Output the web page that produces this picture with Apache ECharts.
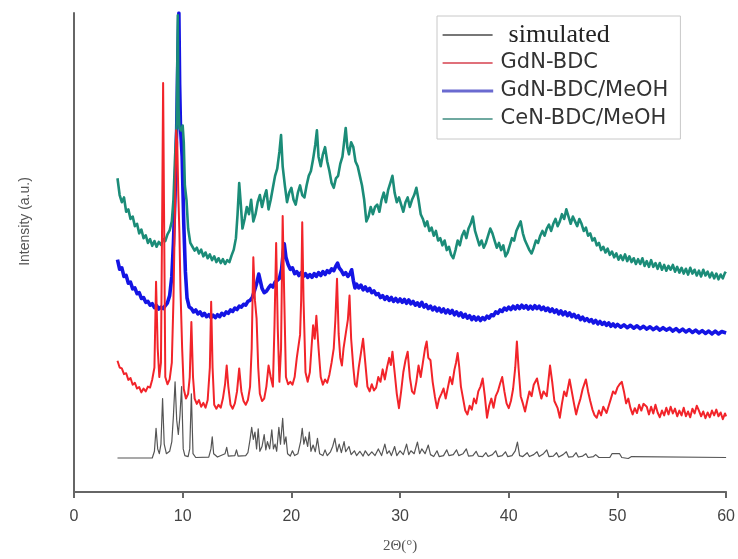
<!DOCTYPE html>
<html>
<head>
<meta charset="utf-8">
<script src="https://cdn.jsdelivr.net/npm/echarts@6/dist/echarts.min.js"></script>
<style>
  html, body { margin: 0; padding: 0; background: #fff; }
  #chart { width: 738px; height: 559px; }
</style>
</head>
<body>
<div id="chart"></div>
<script>
// Powder XRD patterns, [2θ (deg), intensity (a.u., stacked offsets)]
const seriesNames = ['simulated', 'GdN-BDC', 'GdN-BDC/MeOH', 'CeN-BDC/MeOH'];
const xTicks = [0, 10, 20, 30, 40, 50, 60];

const simulated = [
  [4.0,7.1],[7.2,7.1],[7.4,8.5],[7.55,13.3],[7.7,9],[7.85,8],[8.0,10],[8.15,19.5],[8.3,10],[8.5,8],
  [8.8,8.5],[9.0,10.5],[9.15,16],[9.3,23],[9.45,15],[9.6,12],[9.75,16],[9.9,22],[10.05,9],[10.2,7.6],
  [10.5,7.4],[10.65,9],[10.8,20.5],[10.95,8],[11.2,7.2],[12.4,7.3],[12.6,9],[12.72,11.5],[12.85,8],[13.2,7.3],
  [13.9,8],[14.05,9.3],[14.2,7.5],[14.8,7.6],[14.95,8.8],[15.1,7.5],[15.8,7.6],[16.0,8.2],[16.2,11],[16.35,13.5],
  [16.5,11],[16.65,12.5],[16.8,9],[16.95,13.2],[17.1,8.5],[17.3,9.5],[17.5,12],[17.65,8.8],[17.8,10.5],[18.0,9],
  [18.2,13],[18.35,9],[18.5,10],[18.65,8.5],[18.85,13.5],[19.0,10],[19.2,15.4],[19.35,10],[19.5,11.5],[19.65,8],
  [19.9,7.5],[20.1,8.6],[20.3,7.6],[20.6,8],[20.85,10.5],[21.0,13.3],[21.15,10],[21.3,11.5],[21.5,9.5],[21.65,12.5],
  [21.8,8.5],[22.0,9.8],[22.2,8.4],[22.4,11.2],[22.6,8],[22.9,7.6],[23.1,8.8],[23.3,7.6],[23.6,8.4],[23.8,9.5],
  [24.0,11.2],[24.2,8.4],[24.4,10],[24.6,8.2],[24.85,10.5],[25.0,8.4],[25.3,9.5],[25.5,7.8],[25.8,8.6],[26.0,7.6],
  [26.3,8.5],[26.6,7.5],[26.8,8.6],[27.1,7.6],[27.4,8.4],[27.7,7.6],[28.0,9],[28.3,7.6],[28.6,10],[28.8,8],
  [29.0,8.6],[29.2,7.6],[29.5,9.5],[29.7,7.6],[30.0,8.6],[30.3,7.8],[30.6,10],[30.8,7.8],[31.0,8.6],[31.3,8],
  [31.6,10.4],[31.8,8],[32.0,9],[32.3,8],[32.6,9.8],[32.8,7.8],[33.1,7.4],[33.4,8.6],[33.6,7.4],[34.0,7.6],
  [34.3,8.8],[34.5,7.6],[34.9,7.8],[35.2,8.8],[35.4,7.6],[35.8,8],[36.1,9],[36.3,7.5],[36.7,7.6],[37.0,8.5],
  [37.2,7.5],[37.6,7.4],[37.9,8.2],[38.1,7.4],[38.5,7.8],[38.8,8.6],[39.0,7.4],[39.4,7.6],[39.7,8.4],[39.9,7.4],
  [40.3,7.6],[40.6,8.6],[40.8,10.4],[41.0,7.6],[41.3,7.4],[41.7,8.2],[41.9,7.4],[42.3,7.8],[42.6,8.4],[42.8,7.4],
  [43.2,8],[43.5,8.8],[43.7,7.4],[44.1,7.5],[44.4,8.2],[44.6,7.3],[45.0,7.8],[45.3,8.4],[45.5,7.3],[45.9,7.4],
  [46.2,8.2],[46.4,7.3],[46.8,7.5],[47.1,8],[47.3,7.2],[47.8,7.4],[48.0,7.8],[48.3,7.2],[49.3,7.2],[49.5,8],
  [50.2,8],[50.4,7.2],[51.0,7.0],[51.3,7.4],[60.0,7.2]
];

const gdnBdc = [
  [4.0,27.4],[4.2,26],[4.4,25.8],[4.6,24.6],[4.8,24.8],[5.0,23.4],[5.2,23.8],[5.4,22.4],[5.6,22.8],[5.8,21.6],
  [6.0,21.9],[6.2,20.8],[6.4,21.6],[6.6,21],[6.8,22],[7.0,21.8],[7.2,23.5],[7.4,26],[7.55,43.9],[7.7,30],
  [7.85,24],[8.0,27],[8.12,60],[8.2,85.4],[8.28,60],[8.4,24],[8.6,22.5],[8.8,23.5],[9.0,27],[9.15,40],
  [9.3,60],[9.4,75.5],[9.5,73],[9.6,62],[9.7,54],[9.8,42],[9.95,30],[10.1,21.5],[10.3,19.5],[10.5,20.5],
  [10.65,24],[10.8,35.5],[10.95,24],[11.1,19.5],[11.3,18.4],[11.5,19.2],[11.7,17.8],[11.9,18.6],[12.1,17.6],[12.3,19.2],
  [12.5,26],[12.62,39.7],[12.75,26],[12.9,18.2],[13.1,17.4],[13.3,18.2],[13.5,17.6],[13.7,19.5],[13.9,22.5],[14.05,26.4],
  [14.2,22],[14.4,18.2],[14.6,17.4],[14.8,18.5],[15.0,21],[15.2,25.8],[15.4,21],[15.6,19],[15.8,18.2],[16.0,19.2],
  [16.2,22],[16.35,30],[16.5,49],[16.65,40],[16.8,36.2],[16.95,26],[17.1,20.5],[17.3,19],[17.5,19.5],[17.7,22],
  [17.9,26.4],[18.1,24],[18.3,22],[18.45,35],[18.6,52],[18.75,34],[18.9,23],[19.05,30],[19.2,57.6],[19.35,40],
  [19.5,24],[19.7,22.5],[19.9,23],[20.1,22.4],[20.3,24],[20.5,28],[20.8,32.8],[20.9,40],[21.0,56.3],[21.12,40],
  [21.3,25],[21.5,23],[21.7,25],[21.85,30],[22.0,34.8],[22.15,32],[22.3,36.8],[22.5,30],[22.7,24],[22.9,22.4],
  [23.1,23.5],[23.3,22.8],[23.5,24.5],[23.7,27],[23.9,30],[24.05,36],[24.2,44.5],[24.35,33],[24.5,28],[24.65,26.4],
  [24.8,30],[25.0,33],[25.2,36],[25.35,41],[25.5,32],[25.7,26],[25.85,22.5],[26.0,22],[26.2,26],[26.4,29],
  [26.6,32],[26.8,27],[27.0,22],[27.2,21],[27.4,22.5],[27.6,21.2],[27.8,21.8],[28.0,24],[28.2,23],[28.4,25.6],
  [28.6,23.5],[28.8,26],[29.0,28],[29.15,26.5],[29.3,29.3],[29.5,25],[29.7,20.5],[29.9,17.5],[30.1,21],[30.3,25],
  [30.5,27.5],[30.7,29.3],[30.9,24],[31.1,21],[31.3,20.5],[31.5,23],[31.7,26.4],[31.9,24],[32.1,27],[32.3,30],
  [32.45,31.4],[32.6,28],[32.8,27.5],[33.0,23],[33.2,20],[33.4,17.5],[33.6,19.5],[33.8,20.5],[34.0,21.6],[34.2,19.5],
  [34.4,21.8],[34.6,24],[34.8,22.5],[35.0,25.5],[35.15,27],[35.3,29],[35.45,26],[35.6,22],[35.8,19.5],[36.0,17],
  [36.2,16.2],[36.4,18],[36.6,17.2],[36.8,19.5],[37.0,18.5],[37.2,21],[37.4,22],[37.6,23.7],[37.8,20],[38.0,15.5],
  [38.2,18],[38.4,19.5],[38.6,17.6],[38.8,20],[39.0,21],[39.2,22.6],[39.4,24],[39.6,21],[39.8,18.5],[40.0,17.5],
  [40.2,19],[40.4,21.5],[40.6,26],[40.75,31.4],[40.9,26],[41.1,20],[41.3,18.5],[41.5,16.8],[41.7,19],[41.9,21],
  [42.1,20],[42.3,22.4],[42.6,23.7],[42.8,21.5],[43.0,19.5],[43.2,21],[43.5,20],[43.8,26.4],[44.0,23],[44.2,19],
  [44.5,17.5],[44.7,15.5],[44.9,18.5],[45.1,21],[45.3,20],[45.6,23.5],[45.8,21],[46.0,18.5],[46.2,16.2],[46.4,18],
  [46.6,19.5],[46.8,21.5],[47.1,23.5],[47.3,21],[47.5,19],[47.7,17.2],[47.9,16],[48.1,15.5],[48.3,17],[48.5,16],
  [48.7,17.8],[49.0,16.5],[49.2,18],[49.4,19.5],[49.6,21],[49.8,20.5],[50.0,21.8],[50.2,22.5],[50.4,23],[50.6,21],
  [50.8,18.5],[51.0,19.5],[51.2,17.5],[51.4,16.2],[51.6,17.5],[51.8,16.5],[52.0,18.2],[52.2,17],[52.4,18.4],[52.7,17.8],
  [52.9,16.2],[53.1,17.8],[53.3,16.4],[53.5,18.2],[53.7,16.6],[53.9,15.6],[54.1,17],[54.3,16],[54.5,17.6],[54.7,16.2],
  [54.9,17.8],[55.1,16.4],[55.3,17.4],[55.5,15.8],[55.7,17],[55.9,16],[56.1,17.6],[56.3,15.8],[56.5,16.8],[56.7,15.6],
  [56.9,17.4],[57.1,16.4],[57.3,18],[57.5,17],[57.7,15.8],[57.9,16.8],[58.1,15.4],[58.3,16.6],[58.5,15.6],[58.7,17],
  [58.9,16],[59.1,17.2],[59.3,15.8],[59.5,16.6],[59.7,15.2],[59.9,16.4],[60.0,15.8]
];

const gdnBdcMeOH = [
  [4.0,48.5],[4.2,46.5],[4.4,46.8],[4.6,45],[4.8,45.2],[5.0,43.6],[5.2,43.8],[5.4,42.4],[5.6,42.6],[5.8,41.4],
  [6.0,41.6],[6.2,40.4],[6.4,40.6],[6.6,39.6],[6.8,39.8],[7.0,39],[7.2,39.3],[7.4,38.5],[7.6,38.9],[7.8,38.2],
  [8.0,38.6],[8.2,38.3],[8.4,38.9],[8.6,39.5],[8.8,41],[9.0,45],[9.15,52],[9.3,62],[9.45,76],[9.55,90],
  [9.65,100],[9.72,85],[9.8,76],[9.95,70],[10.1,56],[10.25,46],[10.4,40.5],[10.6,38.6],[10.8,38.3],[11.0,37.6],
  [11.2,38],[11.4,37.2],[11.6,37.6],[11.8,36.8],[12.0,37.3],[12.2,36.6],[12.4,37],[12.6,36.4],[12.8,36.9],[13.0,36.4],
  [13.2,37],[13.4,36.6],[13.6,37.3],[13.8,36.9],[14.0,37.6],[14.2,37.3],[14.4,38],[14.6,37.7],[14.8,38.4],[15.0,38.1],
  [15.2,38.8],[15.4,38.6],[15.6,39.2],[15.8,39],[16.0,39.8],[16.2,40],[16.4,40.6],[16.6,42],[16.8,43.5],[17.0,45.5],
  [17.15,44],[17.3,42.5],[17.5,41.6],[17.7,41.9],[17.9,42.6],[18.1,43.2],[18.3,42.8],[18.5,43.8],[18.7,44.2],[18.9,44.6],
  [19.1,46.5],[19.25,50],[19.35,51.8],[19.5,49],[19.7,47.5],[19.9,46.5],[20.1,46.8],[20.3,45.6],[20.5,46],[20.7,45.2],
  [20.9,45.8],[21.1,45],[21.3,45.6],[21.5,44.8],[21.7,45.4],[21.9,44.8],[22.1,45.6],[22.3,45],[22.5,45.8],[22.7,45.2],
  [22.9,46],[23.1,45.4],[23.3,46.2],[23.5,45.8],[23.7,46.6],[23.9,46.2],[24.1,47.2],[24.25,47.8],[24.4,46.8],[24.6,46.2],
  [24.8,45.4],[25.0,45.8],[25.2,45],[25.4,45.6],[25.55,46.4],[25.7,44.2],[25.85,42.6],[26.0,43.4],[26.2,42.6],[26.4,43.2],
  [26.6,42.2],[26.8,42.8],[27.0,42],[27.2,42.5],[27.4,41.6],[27.6,42],[27.8,41.2],[28.0,41.4],[28.2,40.6],[28.4,41],
  [28.6,40.2],[28.8,40.8],[29.0,40],[29.2,40.6],[29.4,39.8],[29.6,40.4],[29.8,39.7],[30.0,40.3],[30.2,39.6],[30.4,40.2],
  [30.6,39.4],[30.8,40.1],[31.0,39.3],[31.2,39.8],[31.4,39],[31.6,39.5],[31.8,38.8],[32.0,39.6],[32.2,38.6],[32.4,39.1],
  [32.6,38.3],[32.8,38.8],[33.0,38],[33.2,38.6],[33.4,37.8],[33.6,38.4],[33.8,37.6],[34.0,38.2],[34.2,37.4],[34.4,38],
  [34.6,37.3],[34.8,37.9],[35.0,37],[35.2,37.6],[35.4,36.8],[35.6,37.4],[35.8,36.5],[36.0,37.1],[36.2,36.3],[36.4,36.8],
  [36.6,36],[36.8,36.6],[37.0,35.9],[37.2,36.5],[37.4,35.8],[37.6,36.4],[37.8,36],[38.0,36.7],[38.2,36.3],[38.4,37],
  [38.6,36.8],[38.8,37.6],[39.0,37.3],[39.2,38],[39.4,37.7],[39.6,38.4],[39.8,38],[40.0,38.6],[40.2,38.1],[40.4,38.8],
  [40.6,38.2],[40.8,38.9],[41.0,38.3],[41.2,39],[41.4,38.4],[41.6,38.9],[41.8,38.2],[42.0,38.8],[42.2,38.2],[42.4,38.9],
  [42.6,38.3],[42.8,38.8],[43.0,38.1],[43.2,38.6],[43.4,37.9],[43.6,38.4],[43.8,37.7],[44.0,38.2],[44.2,37.5],[44.4,38],
  [44.6,37.2],[44.8,37.8],[45.0,37],[45.2,37.6],[45.4,36.8],[45.6,37.4],[45.8,36.6],[46.0,37.1],[46.2,36.4],[46.4,36.8],
  [46.6,36],[46.8,36.5],[47.0,35.8],[47.2,36.2],[47.4,35.6],[47.6,36],[47.8,35.3],[48.0,35.8],[48.2,35.1],[48.4,35.6],
  [48.6,35],[48.8,35.4],[49.0,34.8],[49.2,35.3],[49.4,34.6],[49.6,35.1],[49.8,34.5],[50.0,35],[50.3,34.4],[50.6,34.9],
  [50.9,34.3],[51.2,34.8],[51.5,34.2],[51.8,34.7],[52.1,34.1],[52.4,34.6],[52.7,34],[53.0,34.5],[53.3,33.9],[53.6,34.4],
  [53.9,33.8],[54.2,34.3],[54.5,33.8],[54.8,34.2],[55.1,33.6],[55.4,34.1],[55.7,33.5],[56.0,34],[56.3,33.4],[56.6,33.9],
  [56.9,33.3],[57.2,33.8],[57.5,33.2],[57.8,33.7],[58.1,33.1],[58.4,33.6],[58.7,33],[59.0,33.6],[59.3,33],[59.6,33.5],
  [60.0,33.2]
];

const cenBdcMeOH = [
  [4.0,65.5],[4.2,62],[4.4,60.5],[4.6,61.5],[4.8,58.5],[5.0,59],[5.2,57],[5.4,57.5],[5.6,55.5],[5.8,56],
  [6.0,54],[6.2,54.8],[6.4,53],[6.6,53.6],[6.8,52],[7.0,52.8],[7.2,51.4],[7.4,52.4],[7.6,51.2],[7.8,52.2],
  [8.0,51.6],[8.2,52.8],[8.4,52.4],[8.6,53.8],[8.8,54.6],[9.0,56.5],[9.15,61],[9.3,70],[9.45,77],[9.55,99.5],
  [9.62,80],[9.7,76],[9.85,75.5],[10.0,76.5],[10.1,73],[10.2,64],[10.35,61],[10.5,55],[10.7,52],[10.9,51.2],
  [11.1,50.4],[11.3,51],[11.5,49.8],[11.7,50.6],[11.9,49.2],[12.1,50],[12.3,48.8],[12.5,49.6],[12.7,48.4],[12.9,49.2],
  [13.1,48],[13.3,48.8],[13.5,47.8],[13.7,48.6],[13.9,47.6],[14.1,48.4],[14.3,48],[14.5,49.4],[14.7,50.6],[14.9,53],
  [15.05,58],[15.2,64.5],[15.35,60],[15.5,55],[15.7,57],[15.9,59.5],[16.1,58],[16.3,61],[16.5,56.5],[16.7,58],
  [16.9,60.5],[17.1,62],[17.3,59.5],[17.5,61.5],[17.7,63],[17.9,59],[18.1,61],[18.3,63.5],[18.5,66],[18.7,67.5],
  [18.9,71],[19.05,74.5],[19.2,68],[19.4,64],[19.6,60.5],[19.8,62.5],[20.0,63.5],[20.2,61],[20.4,60],[20.6,62.5],
  [20.8,64],[21.0,62],[21.2,61.5],[21.4,64],[21.6,66],[21.8,67],[22.0,69.5],[22.2,72.5],[22.35,75.5],[22.5,70],
  [22.7,68],[22.9,70.5],[23.1,72],[23.3,69],[23.5,67],[23.7,64.5],[23.9,63.5],[24.1,65.5],[24.3,66],[24.5,68.5],
  [24.7,70],[24.85,73],[25.0,76],[25.15,72],[25.3,70.5],[25.5,73],[25.7,72],[25.9,69],[26.1,68],[26.3,66],
  [26.5,64],[26.7,61],[26.9,56.5],[27.1,57.5],[27.3,59.5],[27.5,58],[27.7,59.5],[27.9,60],[28.1,58.5],[28.3,61],
  [28.5,62.5],[28.7,60.5],[28.9,63],[29.1,64.5],[29.3,66],[29.5,62.5],[29.7,60.5],[29.9,61.5],[30.1,60],[30.3,58.5],
  [30.5,60.5],[30.7,61.5],[30.9,59.5],[31.1,61],[31.3,62],[31.5,63.5],[31.7,61],[31.9,58],[32.1,57],[32.3,55.5],
  [32.5,56.5],[32.7,54.5],[32.9,55.2],[33.1,53.5],[33.3,54.5],[33.5,52.5],[33.7,53],[33.9,51.5],[34.1,52.5],[34.3,50.5],
  [34.5,51.2],[34.7,49.5],[34.9,48.8],[35.1,50.5],[35.3,52.5],[35.5,51.5],[35.7,53.5],[35.9,54.5],[36.1,53],[36.3,55],
  [36.5,56],[36.7,57.5],[36.9,54.5],[37.1,53],[37.3,51.5],[37.5,52.5],[37.7,51],[37.9,52],[38.1,53.5],[38.3,55],
  [38.5,54],[38.7,52.5],[38.9,51],[39.1,52],[39.3,50.5],[39.5,51.5],[39.7,49.2],[39.9,50],[40.1,51.5],[40.3,53],
  [40.5,52.5],[40.7,54.5],[40.9,55.5],[41.1,56.5],[41.3,54],[41.5,52.5],[41.7,51.5],[41.9,50.5],[42.1,49.8],[42.3,51],
  [42.5,52.5],[42.7,52],[42.9,53.5],[43.1,54.5],[43.3,53.5],[43.5,55],[43.7,55.8],[43.9,54.5],[44.1,56],[44.3,57],
  [44.5,55.5],[44.7,56.5],[44.9,58],[45.1,57],[45.3,59],[45.5,57.5],[45.7,56],[45.9,57.5],[46.1,56.5],[46.3,55.5],
  [46.5,57],[46.7,56],[46.9,54.5],[47.1,55.2],[47.3,53.5],[47.5,54],[47.7,52.5],[47.9,53],[48.1,51.5],[48.3,52],
  [48.5,50.5],[48.7,51.2],[48.9,50],[49.1,50.8],[49.3,49.5],[49.5,50.2],[49.7,49],[49.9,49.8],[50.1,48.5],[50.3,49.4],
  [50.5,48.4],[50.7,49.6],[50.9,48.2],[51.1,49.2],[51.3,48],[51.5,48.8],[51.7,47.6],[51.9,48.6],[52.1,47.6],[52.3,48.8],
  [52.5,47.2],[52.7,48.2],[52.9,47],[53.1,48.4],[53.3,47],[53.5,47.8],[53.7,46.6],[53.9,47.8],[54.1,46.4],[54.3,47.4],
  [54.5,46.2],[54.7,47.2],[54.9,46.4],[55.1,47.4],[55.3,46],[55.5,47],[55.7,45.8],[55.9,46.8],[56.1,45.6],[56.3,46.6],
  [56.5,45.4],[56.7,46.8],[56.9,45.6],[57.1,46.4],[57.3,45.2],[57.5,46.2],[57.7,45],[57.9,46.4],[58.1,45.2],[58.3,46],
  [58.5,44.8],[58.7,45.8],[58.9,44.6],[59.1,45.6],[59.3,44.4],[59.5,45.4],[59.7,44.6],[59.9,45.8],[60.0,45.6]
];

const colors = {
  simulated: '#555555',
  gdn: '#f2242a',
  gdnMeOH: '#1414e4',
  cen: '#1b8c78'
};

const chart = echarts.init(document.getElementById('chart'), null, { renderer: 'canvas' });

const lineSeries = (name, data, color, width, z) => ({
  name, type: 'line', data, z,
  symbol: 'none', showSymbol: false, smooth: false,
  lineStyle: { color, width, join: 'round' },
  itemStyle: { color },
  emphasis: { disabled: true },
  animation: false
});

chart.setOption({
  backgroundColor: '#ffffff',
  animation: false,
  grid: { left: 74, right: 11, top: 13, bottom: 65, containLabel: false },
  legend: {
    orient: 'vertical',
    left: 437, top: 16,
    padding: [5, 12, 6, 5],
    borderColor: '#c8c8c8', borderWidth: 1,
    itemWidth: 50, itemHeight: 2, itemGap: 0,
    icon: 'rect',
    selectedMode: false,
    textStyle: { fontFamily: 'DejaVu Sans', fontSize: 21, color: '#333', lineHeight: 28, padding: [0, 0, 0, 3] },
    data: [
      { name: seriesNames[0], itemStyle: { color: '#777' },
        textStyle: { fontFamily: 'Liberation Serif', fontSize: 26, color: '#222', lineHeight: 28, padding: [0, 0, 0, 11] } },
      { name: seriesNames[1], itemStyle: { color: '#e0707a' } },
      { name: seriesNames[2], itemStyle: { color: '#6a6ad0', borderColor: '#6a6ad0', borderWidth: 1.2 } },
      { name: seriesNames[3], itemStyle: { color: '#6fa9a0' } }
    ]
  },
  xAxis: {
    type: 'value', min: xTicks[0], max: xTicks[xTicks.length - 1], interval: 10,
    name: '2Θ(°)', nameLocation: 'middle', nameGap: 47,
    nameTextStyle: { fontFamily: 'Liberation Serif', fontSize: 15, color: '#555' },
    axisLine: { show: true, lineStyle: { color: '#666', width: 2 } },
    axisTick: { show: true, inside: false, length: 6, lineStyle: { color: '#666', width: 2 } },
    axisLabel: { fontFamily: 'Liberation Sans', fontSize: 16, color: '#444', margin: 17 },
    splitLine: { show: false }
  },
  yAxis: {
    type: 'value', min: 0, max: 100,
    name: 'Intensity (a.u.)', nameLocation: 'middle', nameGap: 42,
    nameTextStyle: { fontFamily: 'Liberation Sans', fontSize: 14, color: '#555', padding: [0, 0, 0, 62] },
    axisLine: { show: true, lineStyle: { color: '#666', width: 2 } },
    axisTick: { show: false },
    axisLabel: { show: false },
    splitLine: { show: false }
  },
  series: [
    lineSeries(seriesNames[0], simulated, colors.simulated, 1.2, 2),
    lineSeries(seriesNames[1], gdnBdc, colors.gdn, 2, 5),
    lineSeries(seriesNames[2], gdnBdcMeOH, colors.gdnMeOH, 3.6, 3),
    lineSeries(seriesNames[3], cenBdcMeOH, colors.cen, 2.6, 4)
  ]
});
</script>
</body>
</html>
